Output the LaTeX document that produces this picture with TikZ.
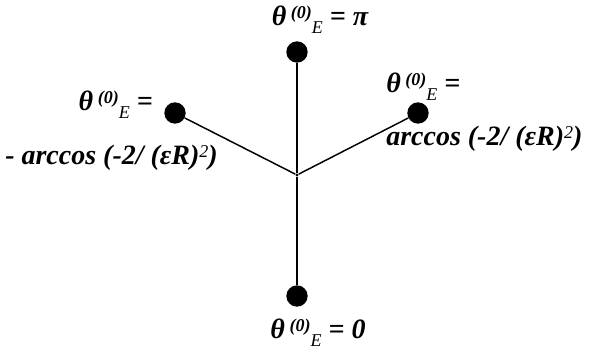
\documentclass[tikz,border=0pt]{standalone}
\usepackage{fontspec}
\setmainfont{Liberation Serif}
\usepackage{tikz}
\usetikzlibrary{positioning}
\tikzstyle{bigdot}=[circle, fill=black, inner sep=0pt, minimum size=16pt]
\tikzstyle{smalldot}=[circle, fill=black, inner sep=0pt, minimum size=2.5pt]
\tikzstyle{spoke}=[line width=1.1pt]
\tikzstyle{lbl}=[inner sep=0pt, font=\fontsize{21}{23}\selectfont\bfseries\itshape]
\newcommand{\thetaE}{θ\,\raisebox{0.55ex}{\fontsize{13.5}{14}\selectfont(0)}\raisebox{-0.6ex}{\fontsize{13.5}{14}\selectfont\mdseries E}}
\newcommand{\sqr}{\raisebox{0.6ex}{\fontsize{13.5}{14}\selectfont\mdseries 2}}

\begin{document}
\begin{tikzpicture}[x=0.75pt, y=-0.75pt]
    \useasboundingbox (0,0) rectangle (592,353);
    % --- centre and end points ---
    \node[smalldot] (centre) at (297,175) {};
    \node[bigdot] (dotTop)    at (297,52)  {};
    \node[bigdot] (dotBottom) at (297,296) {};
    \node[bigdot] (dotLeft)   at (175,113) {};
    \node[bigdot] (dotRight)  at (418,113) {};

    % --- spokes ---
    \draw[spoke] (centre) -- (dotTop);
    \draw[spoke] (centre) -- (dotBottom);
    \draw[spoke] (centre) -- (dotLeft);
    \draw[spoke] (centre) -- (dotRight);

    % --- labels ---
    \node[lbl] (labTop)    at (320,20)  {\thetaE{} = π};
    \node[lbl] (labBottom) at (318,333) {\thetaE{} = 0};
    \node[lbl, anchor=east] (labLeftA)  at (153,105) {\thetaE{} =};
    \node[lbl, anchor=west] (labLeftB)  at (5,158)   {- arccos (-2/ (εR)\sqr)};
    \node[lbl, anchor=west] (labRightA) at (386,87)  {\thetaE{} =};
    \node[lbl, anchor=west] (labRightB) at (386,139) {arccos (-2/ (εR)\sqr)};
\end{tikzpicture}
\end{document}
